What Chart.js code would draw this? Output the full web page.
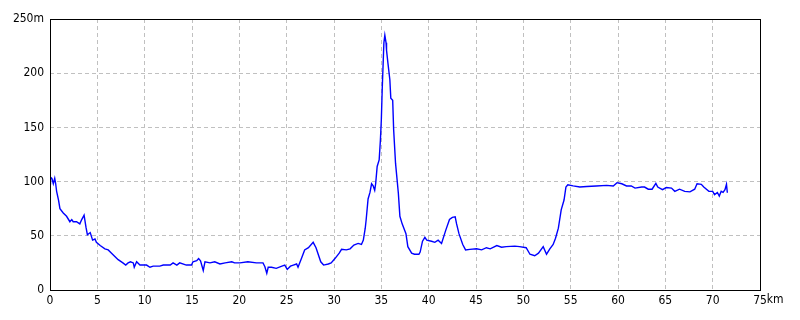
<!DOCTYPE html>
<html>
<head>
<meta charset="utf-8">
<script src="https://cdn.jsdelivr.net/npm/chart.js@4/dist/chart.umd.min.js"></script>
<style>
  html, body { margin:0; padding:0; background:#fff; }
  canvas { display:block; }
</style>
</head>
<body>
<canvas id="chart" width="800" height="320"></canvas>
<script>
  // distance along the route (km) and elevation (m)
  const distKm = [0.0,0.05,0.2,0.35,0.5,0.6,0.7,0.9,1.05,1.4,1.75,2.1,2.3,2.45,2.8,3.15,3.35,3.6,3.8,3.95,
    4.25,4.5,4.75,4.9,5.3,5.8,6.15,6.5,6.85,7.2,7.7,8.0,8.25,8.5,8.8,8.9,9.15,9.5,10.2,10.56,
    10.9,11.6,11.97,12.7,13.0,13.4,13.7,14.4,14.95,15.1,15.5,15.7,15.9,16.19,16.37,16.9,17.4,17.95,18.5,19.2,
    19.5,20.06,20.9,21.8,22.5,22.7,22.9,23.05,23.4,23.9,24.5,24.8,25.06,25.4,25.7,26.05,26.2,26.6,26.9,27.3,
    27.8,28.1,28.6,28.9,29.4,29.7,30.1,30.55,30.8,31.3,31.7,32.1,32.55,32.9,33.1,33.3,33.4,33.6,33.8,33.97,
    34.14,34.3,34.4,34.56,34.77,34.9,35.0,35.1,35.27,35.37,35.5,35.55,35.7,35.9,36.0,36.2,36.3,36.5,36.8,36.96,
    37.2,37.6,37.8,38.2,38.5,38.97,39.1,39.35,39.6,39.8,40.3,40.65,41.0,41.36,41.8,42.2,42.5,42.8,42.95,43.2,
    43.6,43.9,44.35,45.06,45.6,46.1,46.5,47.2,47.7,48.2,49.1,49.6,50.3,50.7,51.2,51.6,52.1,52.45,52.8,53.15,
    53.4,53.7,54.0,54.3,54.5,54.7,55.26,55.97,56.7,57.7,58.8,59.5,59.9,60.4,60.9,61.4,61.8,62.5,62.8,63.2,
    63.6,64.0,64.2,64.7,65.1,65.65,66.0,66.5,67.05,67.6,68.1,68.35,68.8,69.06,69.6,70.0,70.2,70.5,70.7,70.9,
    71.1,71.3,71.46,71.55]
  const elevM = [98,104,103,98,103,98,91,83,75,71,68,63,65,63,63,61,65,69,58,51,
    53,46,47,44,41,38,37,34,31,28,25,23,25,26,25,21,26,23,23,21,
    22,22,23,23,25,23,25,23,23,26,27,29,27,18,26,25,26,24,25,26,
    25,25,26,25,25,21.5,15.4,21,21,20,22,23,19,22,23,24,21,30,37,39,
    44,39,26,23,24,25,29,34,37.5,37,38,41.5,43,42,46,57,65,84,90,98,
    96,92,98,114,120,138,157,187,228,235,228,221,209,194,177,175,148,117,89,68,
    61,52,40,34,33,33,35,45,48.6,46,45,44,46,43,55,65,67,67.5,61,52,
    42,37,37.5,38,37,39,38,41,39.5,40,40.5,40,39,33,31.6,34,40,33,38,42,
    47.7,57,74,83,95,97,96,95,95.5,96,96.5,96,99,98,96,96,94,95,95,93,
    93,98.4,95,92.5,94.5,94,91,93,91,90.5,93,98,97.5,95,91,91,88,90,86.7,91,
    90,92.5,97.5,89.7]

  const xMax = 75, xStep = 5
  const yMax = 250, yStep = 50
  const tickFont = { family: "'Liberation Sans Narrow', 'DejaVu Sans Condensed', sans-serif", size: 12 }

  function buildPoints(){   // pair distance with elevation for the linear x axis
    return distKm.map((d, i) => ({ x: d, y: elevM[i] }))
  }

  const framePlugin = {   // black box round the plot and the "km" unit after 75
    id: 'frame',
    afterDraw(chart){
      const { ctx, chartArea: a } = chart
      ctx.save()
      ctx.setLineDash([])
      ctx.strokeStyle = '#000'
      ctx.lineWidth = 1
      ctx.strokeRect(Math.round(a.left) + 0.5, Math.round(a.top) + 0.5,
        Math.round(a.right - a.left), Math.round(a.bottom - a.top))
      const xs = chart.scales.x
      ctx.font = `${tickFont.size}px ${tickFont.family}`
      ctx.fillStyle = '#000'
      ctx.textBaseline = 'top'
      const w = ctx.measureText(String(xMax)).width
      ctx.fillText('km', xs.getPixelForValue(xMax) + w / 2, a.bottom + 4)
      ctx.restore()
    }
  }

  new Chart(document.getElementById('chart'), {
    type: 'line',
    data: {
      datasets: [{
        data: buildPoints(),
        borderColor: '#0000ff',
        borderWidth: 1.4,
        pointRadius: 0,
        tension: 0,
        fill: false
      }]
    },
    options: {
      responsive: false,
      animation: false,
      events: [],
      layout: { padding: { top: 19, right: 40, left: 0, bottom: 0 } },
      plugins: { legend: { display: false }, tooltip: { enabled: false } },
      scales: {
        x: {
          type: 'linear',
          min: 0, max: xMax,
          afterFit(s){ s.height = 30 },
          grid: { color: '#c0c0c0', drawTicks: false },
          border: { display: false, dash: [4, 3] },
          ticks: { stepSize: xStep, color: '#000', font: tickFont, padding: 4, maxRotation: 0 }
        },
        y: {
          min: 0, max: yMax,
          afterFit(s){ s.width = 50 },
          grid: { color: '#c0c0c0', drawTicks: false },
          border: { display: false, dash: [4, 3] },
          ticks: {
            stepSize: yStep, color: '#000', font: tickFont, padding: 6,
            callback: (v) => v === yMax ? v + 'm' : v
          }
        }
      }
    },
    plugins: [framePlugin]
  })
</script>
</body>
</html>
